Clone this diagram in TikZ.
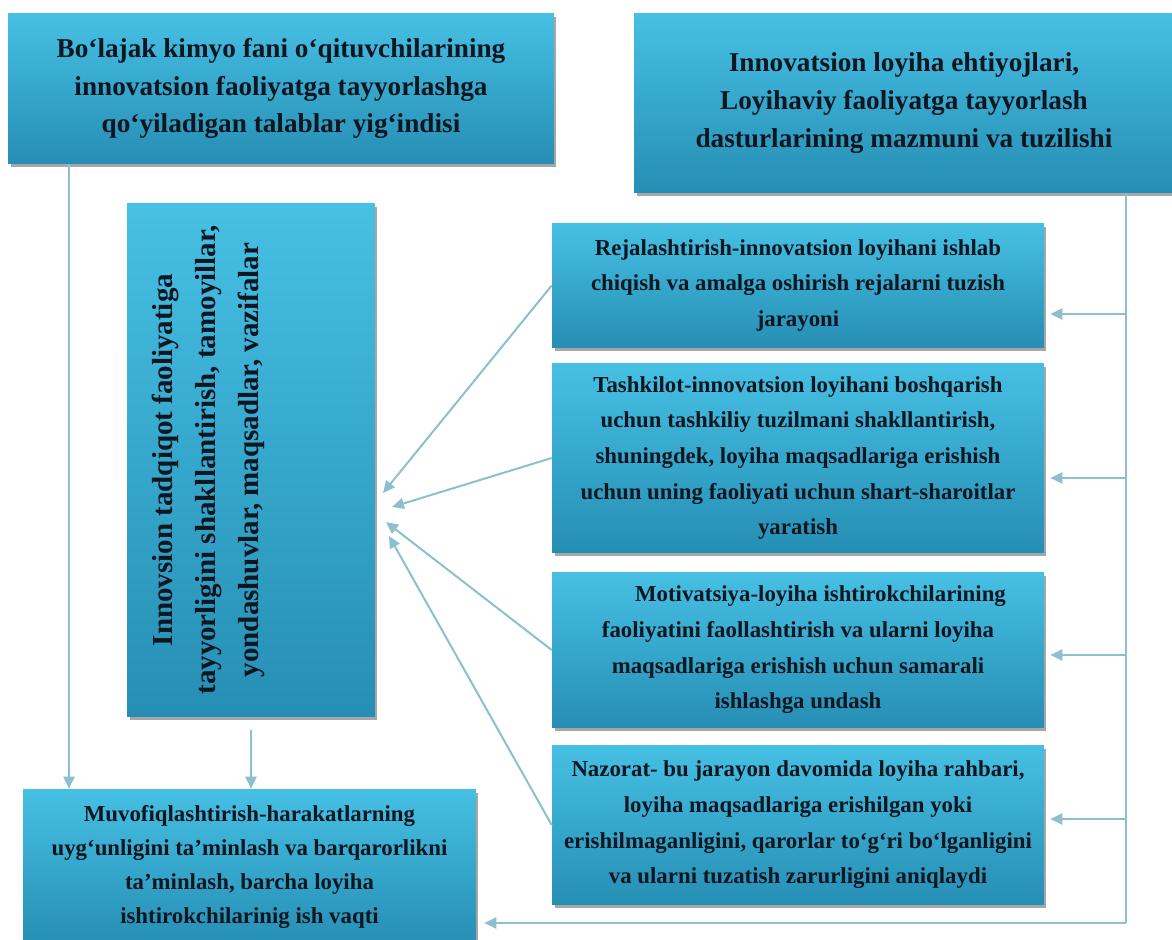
\documentclass[tikz,border=0pt]{standalone}
\usepackage{fontspec}
\setmainfont{Liberation Serif}
\usetikzlibrary{arrows.meta,shadows}
\definecolor{boxtop}{RGB}{70,192,228}
\definecolor{boxbot}{RGB}{38,142,180}
\definecolor{ink}{RGB}{14,22,32}
\definecolor{linkc}{RGB}{140,192,208}

\begin{document}
\begin{tikzpicture}[x=0.02cm,y=-0.02cm,
  panel/.style={rectangle, inner sep=0pt, top color=boxtop, bottom color=boxbot, text=ink, align=center,
    drop shadow={shadow xshift=0.05cm, shadow yshift=-0.07cm, opacity=0.35, fill=black}},
  bigtext/.style={font=\fontsize{15.5}{21.5}\selectfont\bfseries},
  smalltext/.style={font=\fontsize{13}{20.3}\selectfont\bfseries},
  wire/.style={draw=linkc, line width=0.04cm},
  link/.style={wire, -{Triangle[width=0.22cm,length=0.24cm]}}]

\fill[white] (0,0) rectangle (1172,939);
\useasboundingbox (0,0) rectangle (1172,939);
\clip (0,0) rectangle (1172,939);

\node[panel, bigtext, minimum width=10.92cm, minimum height=3.02cm] (A) at (281,88.5)
  {Bo‘lajak kimyo fani o‘qituvchilarining\\ innovatsion faoliyatga tayyorlashga\\ qo‘yiladigan talablar yig‘indisi};
\node[panel, bigtext, minimum width=10.8cm, minimum height=3.6cm] (B) at (904,103)
  {Innovatsion loyiha ehtiyojlari,\\ Loyihaviy faoliyatga tayyorlash\\ dasturlarining mazmuni va tuzilishi};

\node[panel, minimum width=4.96cm, minimum height=10.28cm] (C) at (251,460) {};
\node[rotate=90, align=center, text=ink, font=\fontsize{16.5}{24.7}\selectfont\bfseries] (Ctext) at (208.5,460)
  {Innovsion tadqiqot faoliyatiga\\ tayyorligini shakllantirish, tamoyillar,\\ yondashuvlar, maqsadlar, vazifalar};

\node[panel, smalltext, minimum width=9.84cm, minimum height=2.5cm] (D1) at (798,285.5)
  {Rejalashtirish-innovatsion loyihani ishlab\\ chiqish va amalga oshirish rejalarni tuzish\\ jarayoni};
\node[panel, smalltext, minimum width=9.84cm, minimum height=3.8cm] (D2) at (798,458)
  {Tashkilot-innovatsion loyihani boshqarish\\ uchun tashkiliy tuzilmani shakllantirish,\\ shuningdek, loyiha maqsadlariga erishish\\ uchun uning faoliyati uchun shart-sharoitlar\\ yaratish};
\node[panel, smalltext, minimum width=9.84cm, minimum height=3.12cm] (D3) at (798,650)
  {\hspace*{0.9cm}Motivatsiya-loyiha ishtirokchilarining\\ faoliyatini faollashtirish va ularni loyiha\\ maqsadlariga erishish uchun samarali\\ ishlashga undash};
\node[panel, smalltext, minimum width=9.84cm, minimum height=3.2cm] (D4) at (798,825)
  {Nazorat- bu jarayon davomida loyiha rahbari,\\ loyiha maqsadlariga erishilgan yoki\\ erishilmaganligini, qarorlar to‘g‘ri bo‘lganligini\\ va ularni tuzatish zarurligini aniqlaydi};

\node[panel, font=\fontsize{13}{19.3}\selectfont\bfseries, minimum width=9.06cm, minimum height=3.12cm] (E) at (249.5,867)
  {Muvofiqlashtirish-harakatlarning\\ uyg‘unligini ta’minlash va barqarorlikni\\ ta’minlash, barcha loyiha\\ ishtirokchilarinig ish vaqti};

\coordinate (drop) at (69,164);
\draw[link] (drop) -- (drop |- E.north);
\draw[link, shorten <=0.26cm] (C.south) -- (C.south |- E.north);

\coordinate (p1) at (383,493);
\coordinate (p2) at (392,507);
\coordinate (p3) at (386,522);
\coordinate (p4) at (389,536);
\draw[link] (D1.west) -- (p1);
\draw[link] (D2.west) -- (p2);
\draw[link] (D3.west) -- (p3);
\draw[link] (D4.west) -- (p4);

\coordinate (corner) at (1126,923);
\coordinate (t1) at (1126,314);
\coordinate (t2) at (1126,478);
\coordinate (t3) at (1126,655);
\coordinate (t4) at (1126,819);
\draw[wire] (B.south -| corner) -- (corner);
\draw[link, shorten >=0.12cm] (t1) -- (t1 -| D1.east);
\draw[link, shorten >=0.12cm] (t2) -- (t2 -| D2.east);
\draw[link, shorten >=0.12cm] (t3) -- (t3 -| D3.east);
\draw[link, shorten >=0.12cm] (t4) -- (t4 -| D4.east);
\draw[link, shorten >=0.16cm] (corner) -- (corner -| E.east);

\end{tikzpicture}
\end{document}
